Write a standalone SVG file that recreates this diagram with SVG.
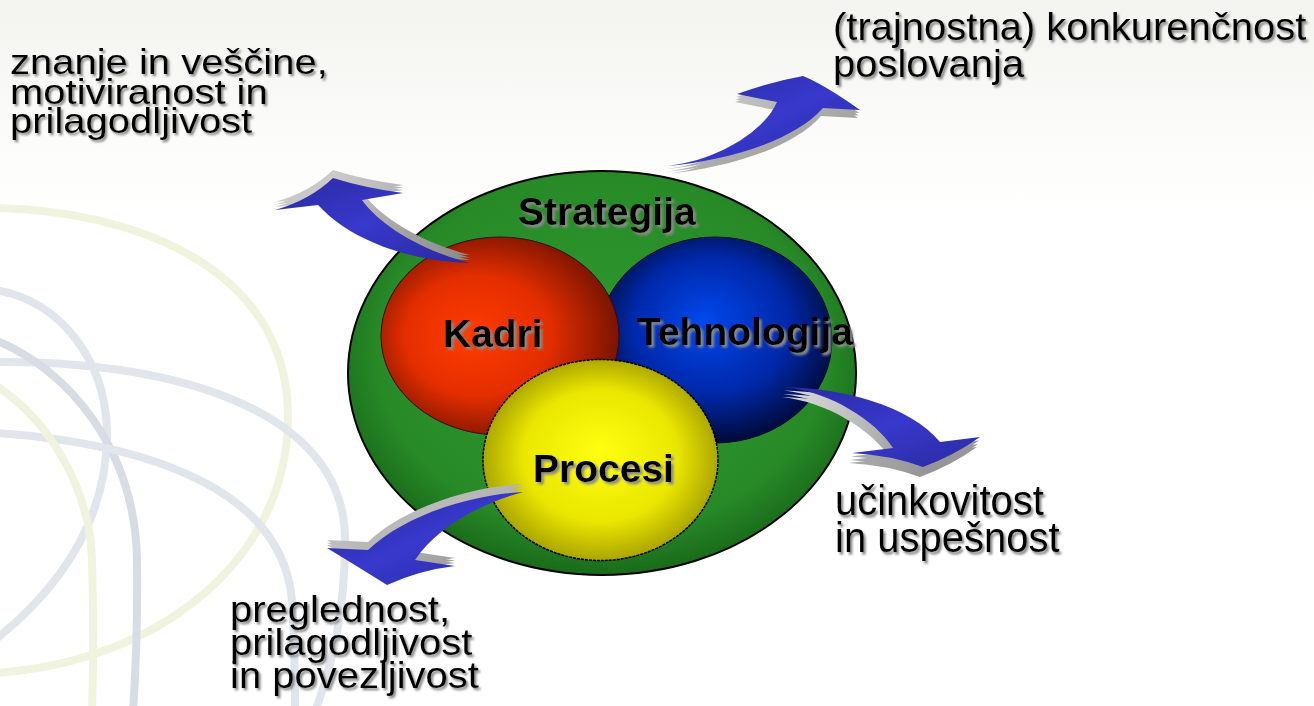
<svg xmlns="http://www.w3.org/2000/svg" xmlns:xlink="http://www.w3.org/1999/xlink" width="1314" height="706" viewBox="0 0 1314 706">
<defs>
<linearGradient id="bg" x1="0" y1="0" x2="0" y2="1">
<stop offset="0" stop-color="#f3f4ef"/><stop offset="0.18" stop-color="#fbfbf9"/><stop offset="0.3" stop-color="#ffffff"/><stop offset="1" stop-color="#ffffff"/>
</linearGradient>
<radialGradient id="gGreen" cx="0.5" cy="0.45" r="0.55">
<stop offset="0" stop-color="#2f9a2f"/><stop offset="0.8" stop-color="#278a27"/><stop offset="1" stop-color="#1a6a1a"/>
</radialGradient>
<radialGradient id="gRed" cx="0.45" cy="0.5" r="0.55" fx="0.35" fy="0.5">
<stop offset="0" stop-color="#ff3c00"/><stop offset="0.55" stop-color="#e42e00"/><stop offset="1" stop-color="#7a1400"/>
</radialGradient>
<radialGradient id="gBlue" cx="0.5" cy="0.45" r="0.55" fx="0.45" fy="0.4">
<stop offset="0" stop-color="#0048ec"/><stop offset="0.6" stop-color="#0028aa"/><stop offset="1" stop-color="#000a38"/>
</radialGradient>
<radialGradient id="gYellow" cx="0.5" cy="0.5" r="0.55" fx="0.5" fy="0.45">
<stop offset="0" stop-color="#ffff10"/><stop offset="0.6" stop-color="#eae600"/><stop offset="1" stop-color="#9a9400"/>
</radialGradient>
<linearGradient id="gArrow" x1="0" y1="0" x2="1" y2="1">
<stop offset="0" stop-color="#2a2aa0"/><stop offset="0.5" stop-color="#3838cc"/><stop offset="1" stop-color="#2a2aa0"/>
</linearGradient>
<linearGradient id="gExt" x1="0" y1="0" x2="1" y2="1">
<stop offset="0" stop-color="#d8d8d8"/><stop offset="1" stop-color="#8a8a8a"/>
</linearGradient>
<filter id="shTxt" x="-5%" y="-10%" width="115%" height="130%">
<feDropShadow dx="2" dy="2.5" stdDeviation="1" flood-color="#7a7a7a" flood-opacity="0.9"/>
</filter>
<filter id="shLbl" x="-5%" y="-10%" width="115%" height="130%">
<feDropShadow dx="2.5" dy="2.5" stdDeviation="0.8" flood-color="#8a8a8a" flood-opacity="1"/>
</filter>
<path id="a1" d="M470,263 C430,262 360,250 318,205 L275,210 Q310,200 333,178 Q365,188 403,193 L362,200 C380,225 420,250 470,263 Z"/>
<path id="a2" d="M668,166 C730,160 795,140 823,108 L860,110 Q825,85 803,76 Q770,82 737,94 L777,102 C765,130 720,160 668,166 Z"/>
<path id="a3" d="M785,387 C840,388 910,405 940,442 L980,437 Q955,455 923,467 Q890,455 852,453 L893,448 C875,420 830,392 785,387 Z"/>
<path id="a4" d="M523,492 C470,495 405,515 368,550 L327,548 Q360,568 387,585 Q420,570 455,566 L415,560 C435,530 475,505 523,492 Z"/>
<style>
.bgc{fill:none;stroke-width:8;stroke-linecap:round}
.gr{stroke:#e1e5ec}
.gr2{stroke:#d8dde5}
.yg{stroke:#f0f4de}
.ext{fill:url(#gExt)}
.face{fill:url(#gArrow)}
.txt{font-family:"Liberation Sans",Arial,sans-serif;font-size:40px;fill:#000;filter:url(#shTxt)}
.lbl{font-family:"Liberation Sans",Arial,sans-serif;font-weight:bold;font-size:39px;fill:#000;filter:url(#shLbl)}
</style>
</defs>
<rect x="0" y="0" width="1314" height="706" fill="url(#bg)"/>
<g id="background-curves">
<path class="bgc yg" d="M-5,208 C120,210 290,260 288,420 C286,560 160,662 -5,673"/>
<path class="bgc gr" d="M-5,362 C150,360 345,400 345,540 C345,620 330,670 315,712"/>
<path class="bgc gr" d="M-5,290 C60,300 105,360 107,430 C108,510 70,580 -5,640"/>
<path class="bgc gr2" d="M-5,340 C70,370 135,450 137,560 C138,640 135,680 133,712"/>
<path class="bgc gr" d="M-5,433 C100,440 280,470 292,600 C295,650 295,690 295,712"/>
<path class="bgc yg" d="M-5,385 C50,420 90,490 92,560 C94,630 93,680 92,712"/>
</g>
<g id="strategija">
<ellipse cx="602" cy="373" rx="254" ry="202" fill="url(#gGreen)" stroke="#000" stroke-width="2"/>
<text class="lbl" x="518" y="225">Strategija</text>
</g>
<g id="tehnologija">
<ellipse cx="715" cy="340" rx="117" ry="103" fill="url(#gBlue)" stroke="#000a30" stroke-width="1"/>
</g>
<g id="kadri">
<ellipse cx="500" cy="336" rx="119" ry="99" fill="url(#gRed)" stroke="#3a0a00" stroke-width="1"/>
<text class="lbl" x="443" y="347">Kadri</text>
</g>
<g id="tehnologija-label">
<text class="lbl" x="637" y="345">Tehnologija</text>
</g>
<g id="procesi">
<ellipse cx="600.5" cy="460" rx="117.5" ry="100.5" fill="url(#gYellow)" stroke="#000" stroke-width="1.5" stroke-dasharray="3 1"/>
<text class="lbl" x="533" y="482">Procesi</text>
</g>
<g id="connectors">
<g id="arrow-kadri">
<use xlink:href="#a1" class="ext" transform="translate(0,-8)"/>
<use xlink:href="#a1" class="ext" transform="translate(0,-5.5)"/>
<use xlink:href="#a1" class="ext" transform="translate(0,-3)"/>
<use xlink:href="#a1" class="face"/>
</g>
<g id="arrow-strategija">
<use xlink:href="#a2" class="ext" transform="translate(-2,8)"/>
<use xlink:href="#a2" class="ext" transform="translate(-1.3,5.5)"/>
<use xlink:href="#a2" class="ext" transform="translate(-0.7,3)"/>
<use xlink:href="#a2" class="face"/>
</g>
<g id="arrow-tehnologija">
<use xlink:href="#a3" class="ext" transform="translate(-3,10)"/>
<use xlink:href="#a3" class="ext" transform="translate(-2,7)"/>
<use xlink:href="#a3" class="ext" transform="translate(-1,3.5)"/>
<use xlink:href="#a3" class="face"/>
</g>
<g id="arrow-procesi">
<use xlink:href="#a4" class="ext" transform="translate(0,-8)"/>
<use xlink:href="#a4" class="ext" transform="translate(0,-5.5)"/>
<use xlink:href="#a4" class="ext" transform="translate(0,-3)"/>
<use xlink:href="#a4" class="face"/>
</g>
</g>
<g id="text-left">
<text class="txt" transform="translate(10,74) scale(1,0.88)"><tspan x="0" y="0">znanje in veščine,</tspan><tspan x="0" y="34">motiviranost in</tspan><tspan x="0" y="67.6">prilagodljivost</tspan></text>
</g>
<g id="text-top-right">
<text class="txt" transform="translate(833,40) scale(1,0.95)"><tspan x="0" y="0">(trajnostna) konkurenčnost</tspan><tspan x="0" y="38.5">poslovanja</tspan></text>
</g>
<g id="text-bottom-right">
<text class="txt" transform="translate(835,515) scale(1,1.05)"><tspan x="0" y="0">učinkovitost</tspan><tspan x="0" y="35.5">in uspešnost</tspan></text>
</g>
<g id="text-bottom">
<text class="txt" transform="translate(230,622) scale(1,0.92)"><tspan x="0" y="0">preglednost,</tspan><tspan x="0" y="35.9">prilagodljivost</tspan><tspan x="0" y="71.7">in povezljivost</tspan></text>
</g>
</svg>
